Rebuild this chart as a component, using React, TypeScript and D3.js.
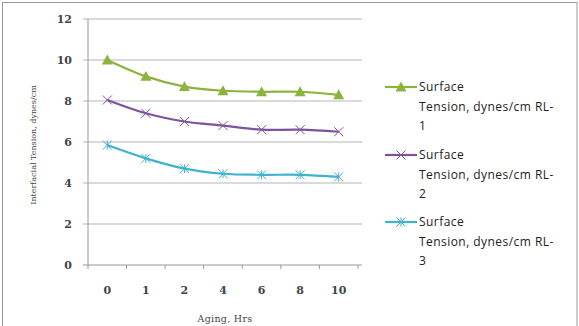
import React from "react";
import * as d3 from "d3";

const categories = ["0", "1", "2", "4", "6", "8", "10"];
const yTicks = [0, 2, 4, 6, 8, 10, 12];
const seriesNames = [
  "Surface Tension, dynes/cm RL-1",
  "Surface Tension, dynes/cm RL-2",
  "Surface Tension, dynes/cm RL-3",
];
const rl1 = [10.0, 9.2, 8.7, 8.5, 8.45, 8.45, 8.3];
const rl2 = [8.05, 7.4, 7.0, 6.8, 6.6, 6.6, 6.5];
const rl3 = [5.85, 5.2, 4.7, 4.45, 4.4, 4.4, 4.3];
const colors = ["#8DB33F", "#7F52A0", "#3FB2CE"];
const markers = ["triangle", "x", "star"];

const W = 579, H = 326;
const plot = { left: 88, right: 358, top: 19, bottom: 265 };

function Marker({ type, x, y, color }: { type: string; x: number; y: number; color: string }) {
  if (type === "triangle") {
    const s = 5.5;
    return <path d={`M${x},${y - s} L${x + s},${y + s * 0.8} L${x - s},${y + s * 0.8} Z`} fill={color} />;
  }
  const s = 4.5;
  const xs = (
    <path d={`M${x - s},${y - s} L${x + s},${y + s} M${x - s},${y + s} L${x + s},${y - s}`} stroke={color} strokeWidth={1} fill="none" />
  );
  if (type === "x") return xs;
  return (
    <g>
      {xs}
      <path d={`M${x},${y - s} L${x},${y + s}`} stroke={color} strokeWidth={1} />
    </g>
  );
}

export default function App() {
  const x = d3.scaleBand<string>().domain(categories).range([plot.left, plot.right]);
  const y = d3.scaleLinear().domain([0, 12]).range([plot.bottom, plot.top]);
  const data = [rl1, rl2, rl3];
  const line = d3
    .line<number>()
    .x((_, i) => (x(categories[i]) as number) + x.bandwidth() / 2)
    .y((d) => y(d))
    .curve(d3.curveCatmullRom.alpha(0.5));
  const tickFont = "'DejaVu Serif', serif";
  const legendY = [87, 155, 222];
  return (
    <svg width={W} height={H} style={{ position: "absolute", left: 0, top: 0 }}>
      <rect x={0} y={0} width={W} height={H} fill="#fff" />
      <rect x={2.5} y={2.5} width={W - 4.5} height={H + 5} fill="none" stroke="#9a9a9a" strokeWidth={1} />
      {yTicks.map((t) => (
        <g key={t}>
          <line x1={plot.left - 5} x2={plot.right + 4} y1={y(t)} y2={y(t)} stroke={t === 0 ? "#999" : "#b5b5b5"} strokeWidth={1} />
          <text x={72} y={y(t)} dy="0.35em" textAnchor="end" fontFamily={tickFont} fontWeight="bold" fontSize={11} fill="#444">
            {t}
          </text>
        </g>
      ))}
      <line x1={plot.left} x2={plot.left} y1={plot.top} y2={plot.bottom} stroke="#999" />
      {categories.concat([""]).map((c, i) => {
        const px = plot.left + i * x.step();
        return <line key={i} x1={px} x2={px} y1={plot.bottom} y2={plot.bottom + 4} stroke="#999" />;
      })}
      {categories.map((c) => (
        <text key={c} x={(x(c) as number) + x.bandwidth() / 2} y={290} dy="0.35em" textAnchor="middle" fontFamily={tickFont} fontWeight="bold" fontSize={11} fill="#444">
          {c}
        </text>
      ))}
      <text x={225} y={322} textAnchor="middle" fontFamily={tickFont} fontSize={9.5} fill="#444" letterSpacing={0.3}>
        Aging, Hrs
      </text>
      <text transform={`translate(36,145) rotate(-90)`} textAnchor="middle" fontFamily={tickFont} fontSize={8} fill="#444">
        Interfacial Tension, dynes/cm
      </text>
      {data.map((s, si) => (
        <g key={si}>
          <path d={line(s) || ""} fill="none" stroke={colors[si]} strokeWidth={2.2} />
          {s.map((v, i) => (
            <Marker key={i} type={markers[si]} x={(x(categories[i]) as number) + x.bandwidth() / 2} y={y(v)} color={colors[si]} />
          ))}
        </g>
      ))}
      {seriesNames.map((n, si) => {
        const ly = legendY[si];
        const words = ["Surface", "Tension, dynes/cm RL-", n.slice(-1)];
        return (
          <g key={si}>
            <line x1={385} x2={417} y1={ly} y2={ly} stroke={colors[si]} strokeWidth={2.2} />
            <Marker type={markers[si]} x={401} y={ly} color={colors[si]} />
            {words.map((w, k) => (
              <text key={k} x={419} y={ly + k * 19.5} dy="0.35em" fontFamily="'Open Sans', sans-serif" fontSize={12} letterSpacing={0.45} fill="#222">
                {w}
              </text>
            ))}
          </g>
        );
      })}
    </svg>
  );
}
